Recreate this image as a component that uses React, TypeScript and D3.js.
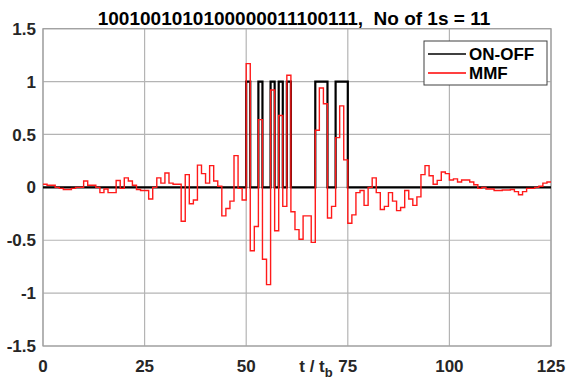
import React from "react";
import * as d3 from "d3";

const titleText = "1001001010100000011100111,  No of 1s = 11";
const bits = "1001001010100000011100111".split("").map(Number);
const bitStart = 50;
const xTicks = [0, 25, 50, 75, 100, 125];
const yTicks = [-1.5, -1, -0.5, 0, 0.5, 1, 1.5];
const yTickLabels = ["-1.5", "-1", "-0.5", "0", "0.5", "1", "1.5"];
const legendNames = ["ON-OFF", "MMF"];
const legendColors = ["#000000", "#ff0000"];

// MMF value for each unit interval [k, k+1), k = 0..124
const mmf = [
  0.03, 0.02, 0.02, 0.0, -0.01, -0.02, -0.02, -0.01, 0.0, 0.0,
  0.06, 0.02, 0.02, 0.0, -0.05, -0.015, -0.05, -0.05, 0.065, -0.01,
  0.09, 0.06, 0.02, -0.02, -0.03, -0.03, -0.11, 0.0, 0.09, 0.04,
  0.135, 0.04, 0.03, 0.03, -0.32, 0.12, -0.155, -0.12, 0.21, 0.13,
  0.04, 0.205, 0.06, 0.01, -0.27, -0.2, -0.13, 0.3, -0.01, -0.12,
  1.17, -0.6, -0.37, 0.64, -0.68, -0.92, 0.92, -0.41, 0.68, -0.18,
  1.06, -0.23, -0.4, -0.49, -0.27, -0.27, -0.52, 0.54, 0.94, 0.79,
  -0.29, -0.18, 0.47, 0.77, 0.26, -0.34, -0.26, -0.05, -0.03, -0.17,
  0.0, 0.09, -0.05, -0.21, -0.18, -0.05, -0.13, -0.22, -0.19, -0.03,
  -0.11, -0.17, -0.09, 0.12, 0.205, 0.11, 0.03, 0.066, 0.145, 0.13,
  0.07, 0.08, 0.05, 0.07, 0.07, 0.05, 0.025, -0.01, 0.0, -0.015,
  -0.015, -0.03, -0.03, -0.025, -0.025, -0.02, -0.04, -0.07, -0.04, -0.01,
  -0.01, 0.0, 0.01, 0.04, 0.05,
];

const W = 567;
const H = 378;
const left = 43;
const right = 551;
const top = 28.7;
const bottom = 346;

export default function App() {
  const x = d3.scaleLinear().domain([0, 125]).range([left, right]);
  const y = d3.scaleLinear().domain([-1.5, 1.5]).range([bottom, top]);

  const onoff: [number, number][] = [];
  for (let t = 0; t < 125; t++) {
    const idx = t - bitStart;
    const v = idx >= 0 && idx < bits.length ? bits[idx] : 0;
    onoff.push([t, v]);
  }
  onoff.push([125, 0]);
  const mmfPts: [number, number][] = mmf.map((v, i) => [i, v]);
  mmfPts.push([125, mmf[mmf.length - 1]]);

  const line = d3
    .line<[number, number]>()
    .x((d) => x(d[0]))
    .y((d) => y(d[1]))
    .curve(d3.curveStepAfter);

  const font = "'Liberation Sans', Arial, sans-serif";
  const lx = 424;
  const ly = 41;
  const lw = 123;
  const lh = 44;

  return (
    <svg
      width={W}
      height={H}
      style={{ position: "absolute", left: 0, top: 0, background: "#fff" }}
      fontFamily={font}
    >
      <rect x={0} y={0} width={W} height={H} fill="#fff" />
      {xTicks.map((t) => (
        <line key={"gx" + t} x1={x(t)} x2={x(t)} y1={top} y2={bottom} stroke="#b4b4b4" strokeWidth={1.2} />
      ))}
      {yTicks.map((t) => (
        <line key={"gy" + t} x1={left} x2={right} y1={y(t)} y2={y(t)} stroke="#b4b4b4" strokeWidth={1.2} />
      ))}
      <rect x={left} y={top} width={right - left} height={bottom - top} fill="none" stroke="#a0a0a0" strokeWidth={1.2} />

      <path d={line(onoff) || ""} fill="none" stroke="#000" strokeWidth={2.2} />
      <path d={line(mmfPts) || ""} fill="none" stroke="#ff1a1a" strokeWidth={1.4} />

      {yTicks.map((t, i) => (
        <text key={"ty" + t} x={36} y={y(t)} dy="0.36em" textAnchor="end" fontSize={17} fontWeight="bold" fill="#262626">
          {yTickLabels[i]}
        </text>
      ))}
      {xTicks.map((t) => (
        <text key={"tx" + t} x={x(t)} y={371.5} textAnchor="middle" fontSize={17} fontWeight="bold" fill="#262626">
          {t}
        </text>
      ))}
      <text x={316} y={371.5} textAnchor="middle" fontSize={17} fontWeight="bold" fill="#262626">
        t / t<tspan dy={5} fontSize={13}>b</tspan>
      </text>

      <text x={294} y={25} textAnchor="middle" fontSize={19} fontWeight="bold" fill="#000" style={{ whiteSpace: "pre" }}>
        {titleText}
      </text>

      <rect x={lx} y={ly} width={lw} height={lh} fill="#fff" stroke="#404040" strokeWidth={1} />
      {legendNames.map((n, i) => (
        <g key={n}>
          <line x1={lx + 4} x2={lx + 42} y1={ly + 13 + i * 19} y2={ly + 13 + i * 19} stroke={legendColors[i]} strokeWidth={1.5} />
          <text x={lx + 45} y={ly + 13 + i * 19} dy="0.36em" fontSize={17} fontWeight="bold" fill="#000">
            {n}
          </text>
        </g>
      ))}
    </svg>
  );
}
